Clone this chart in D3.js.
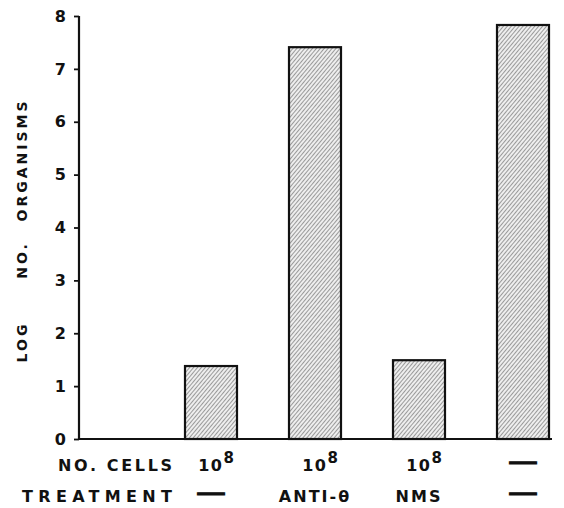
<!DOCTYPE html>
<html><head><meta charset="utf-8">
<script src="https://cdn.jsdelivr.net/npm/d3@7"></script>
<style>
body{margin:0;background:#fff;}
text{font-family:"DejaVu Sans",sans-serif;font-weight:bold;fill:#111;}
</style></head>
<body><svg id="c" width="564" height="508"></svg>
<script>
const groups = ["A","B","C","D"];
const values = [1.38, 7.41, 1.49, 7.83];
const cellsRow = ["10^8","10^8","10^8","—"];
const treatRow = ["—","ANTI-θ","NMS","—"];
const yTicks = [0,1,2,3,4,5,6,7,8];
const rowLabels = ["NO. CELLS","TREATMENT"];
const yLabelWords = ["LOG","NO.","ORGANISMS"];

const svg = d3.select("#c");
const y = d3.scaleLinear().domain([0,8]).range([439,16]);
const x = d3.scaleBand().domain(groups).range([159,575]).paddingInner(0.5).paddingOuter(0.25);

const defs = svg.append("defs");
const pat = defs.append("pattern").attr("id","hatch").attr("patternUnits","userSpaceOnUse")
  .attr("width",3).attr("height",3).attr("patternTransform","rotate(40)");
pat.append("rect").attr("width",3).attr("height",3).attr("fill","#eeeeee");
pat.append("line").attr("x1",0).attr("y1",0).attr("x2",0).attr("y2",3)
  .attr("stroke","#333").attr("stroke-width",0.9);

// bars
svg.selectAll("rect.bar").data(values).join("rect").attr("class","bar")
  .attr("x",(d,i)=>x(groups[i])).attr("width",x.bandwidth())
  .attr("y",d=>y(d)).attr("height",d=>y(0)-y(d))
  .attr("fill","url(#hatch)").attr("stroke","#111").attr("stroke-width",2.2);

// y axis
const ya = svg.append("g").attr("transform","translate(79,0)")
  .call(d3.axisLeft(y).tickValues(yTicks).tickSize(5).tickPadding(8).tickFormat(d3.format("d")));
ya.select(".domain").attr("stroke","#111").attr("stroke-width",2.2).attr("d","M0,"+y(8)+"V"+y(0));
ya.selectAll(".tick line").attr("stroke","#111").attr("stroke-width",1.8);
ya.selectAll(".tick text").style("font-size","16px").style("font-family","DejaVu Sans").style("font-weight","bold").attr("fill","#111");

// x baseline
svg.append("line").attr("x1",78).attr("x2",552).attr("y1",y(0)).attr("y2",y(0))
  .attr("stroke","#111").attr("stroke-width",2.2);

// y label
const yPos = [342, 260, 160];
yLabelWords.forEach((w,i)=>{
  svg.append("text").attr("transform",`translate(27,${yPos[i]}) rotate(-90)`)
    .attr("text-anchor","middle").style("font-size","14px").style("letter-spacing","3px").text(w);
});

// table rows
const rowY = [471, 502];
const rowLens = [114, 150];
rowLabels.forEach((t,i)=>{
  svg.append("text").attr("x",172-rowLens[i]).attr("y",rowY[i]).attr("text-anchor","start")
    .attr("textLength",rowLens[i]).attr("lengthAdjust","spacing")
    .style("font-size","16px").text(t);
});
function drawCell(t, cx, cy){
  const el = svg.append("text").attr("text-anchor","middle")
    .style("font-size","16px").style("letter-spacing","2px");
  if(t.includes("^")){
    const [b,e] = t.split("^");
    el.attr("x",cx).attr("y",cy);
    el.append("tspan").text(b).style("font-size","16px").style("letter-spacing","1.5px");
    el.append("tspan").attr("dy",-8).style("font-size","15px").text(e);
  } else if(t==="—"){
    el.attr("x",cx-15).attr("y",cy-3).attr("text-anchor","start")
      .attr("textLength",30).attr("lengthAdjust","spacingAndGlyphs")
      .attr("stroke","#111").attr("stroke-width",0.8)
      .style("letter-spacing","0px").style("font-size","17px").text(t);
  } else el.attr("x",cx).attr("y",cy).text(t);
}
cellsRow.forEach((t,i)=>drawCell(t, x(groups[i])+x.bandwidth()/2+6*(t.includes("^")?1:0), rowY[0]));
treatRow.forEach((t,i)=>drawCell(t, x(groups[i])+x.bandwidth()/2, rowY[1]));
</script></body></html>
